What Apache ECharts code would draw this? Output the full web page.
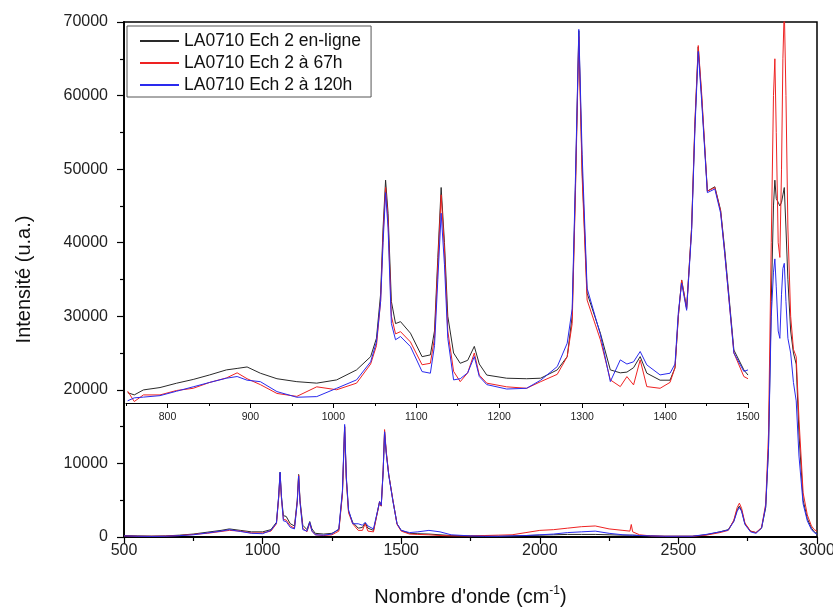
<!DOCTYPE html>
<html>
<head>
<meta charset="utf-8">
<script src="https://cdn.jsdelivr.net/npm/echarts@6/dist/echarts.min.js"></script>
<style>html,body{margin:0;padding:0;background:#fff}#c{width:833px;height:608px}</style>
</head>
<body>
<div id="c"></div>
<script>
// ---- Data ----
var seriesNames = ['LA0710 Ech 2 en-ligne', 'LA0710 Ech 2 à 67h', 'LA0710 Ech 2 à 120h'];

// Main spectrum, 500-3000 cm-1
var mainWavenumber = [
  500,550,600,650,700,750,800,850,880,920,960,1000,
  1030,1050,1058,1063,1068,1075,1085,1100,1115,1125,
  1130,1135,1145,1160,1170,1178,1190,1220,1250,1275,
  1288,1296,1302,1310,1325,1345,1360,1370,1380,1400,
  1415,1422,1428,1435,1440,1446,1455,1462,1470,1485,
  1500,1530,1560,1600,1640,1680,1750,1800,1850,1900,
  1950,2000,2050,2100,2150,2200,2250,2300,2325,2330,
  2335,2360,2400,2450,2500,2550,2600,2650,2680,2700,
  2712,2720,2728,2740,2760,2780,2800,2815,2825,2835,
  2843,2848,2853,2860,2866,2872,2877,2882,2888,2895,
  2905,2915,2925,2935,2950,2965,2980,2990,3000
];
var mainEnLigne = [
  200,150,120,150,250,400,650,900,1100,900,700,700,
  1000,2000,5500,8800,5500,2900,2800,1800,1500,5000,
  8500,5000,1600,1000,2100,1100,500,400,500,1000,
  6000,15000,8000,3500,2000,1200,1300,1900,1200,900,
  3500,4800,4200,9000,14300,11500,8500,8300,5000,1800,
  900,500,450,400,300,200,150,150,100,150,
  200,250,300,350,350,350,300,250,250,250,
  250,200,150,100,100,100,300,700,1000,2200,
  3700,4200,3600,1800,800,600,1200,4000,12000,32000,
  45000,48500,46000,45500,45000,45500,46500,47500,42000,35000,
  28000,25000,23500,14000,5000,2500,1200,700,400
];
var main67h = [
  150,100,100,120,200,350,500,750,900,800,550,550,
  800,1800,5300,8500,5200,2400,2300,1500,1200,4800,
  8400,4800,1200,700,1900,800,300,200,300,800,
  5800,15000,7800,3300,1800,900,900,1800,800,700,
  3500,4800,4200,9200,14600,11700,8500,8300,5000,1700,
  800,400,350,300,200,150,150,200,250,300,
  600,900,1000,1200,1400,1500,1100,900,800,1700,
  700,300,150,100,100,100,250,600,900,2300,
  4000,4600,3900,1900,800,600,1300,4500,14000,40000,
  60000,65000,55000,40000,38000,50000,65000,72000,60000,42000,
  30000,25500,24500,16000,6000,3000,1500,1000,800
];
var main120h = [
  150,100,80,100,180,300,550,800,1000,750,500,450,
  900,1900,5600,8800,5500,2200,2100,1300,1100,4700,
  8300,4700,1000,800,2000,800,300,250,400,1100,
  6300,15300,8200,3700,1800,1800,1600,2000,1500,1100,
  3600,4800,4300,9000,14300,11400,8400,8200,4900,1800,
  900,600,700,900,700,300,150,100,100,150,
  200,300,400,600,700,800,500,300,250,250,
  250,200,150,100,100,100,350,700,950,2100,
  3500,4000,3500,1700,700,500,1200,4200,12000,30000,
  36000,37800,34000,28000,27000,33000,36500,37200,32000,27000,
  25000,21000,18500,11000,4500,2200,1000,600,400
];

// Inset (zoom of 750-1500 cm-1), values expressed on the main intensity scale
var insetWavenumber = [
  752,760,771,791,811,831,851,871,884,896,
  912,932,956,980,1004,1028,1045,1052,1057,1060,
  1063,1066,1070,1075,1081,1093,1107,1117,1122,1126,
  1130,1134,1138,1145,1153,1162,1170,1176,1185,1209,
  1233,1250,1270,1282,1288,1292,1296,1300,1306,1322,
  1334,1346,1354,1362,1370,1378,1394,1406,1412,1416,
  1420,1426,1432,1436,1440,1444,1451,1460,1467,1472,
  1483,1495,1500
];
var insetEnLigne = [
  19600,19300,19980,20300,20890,21400,22020,22700,22900,23100,
  22250,21500,21100,20900,21340,22700,24500,27000,33000,42000,
  48500,44000,32000,29000,29260,27690,24500,24740,28000,38000,
  47500,40000,30000,25000,23600,24000,25900,23500,22000,21570,
  21500,21570,22700,24500,30000,48000,68800,50000,33130,27690,
  22700,22300,22400,23000,24510,22250,21300,21300,23000,30000,
  34930,31080,42000,56000,66600,60000,47000,47600,44400,39000,
  25400,22700,22000
];
var inset67h = [
  19800,18400,19300,19300,19900,20200,21000,21600,22300,21500,
  20700,19500,19100,20400,20000,20900,23500,26000,32000,41000,
  47500,43000,30000,27600,27900,26500,23400,23600,27000,37000,
  46500,39000,28000,22500,21100,22300,25000,22000,20900,20400,
  20200,21100,22100,24500,29000,47000,68000,49000,32200,26800,
  21340,20430,21790,20660,24060,20430,20200,21000,23000,30000,
  34900,31000,42000,56500,66800,60500,47000,47500,44300,38500,
  25000,21800,21500
];
var inset120h = [
  18500,18900,19000,19200,19800,20400,21000,21570,21800,21300,
  21100,19750,18980,19070,20200,21340,23800,26500,32000,40000,
  46800,42000,29000,26800,27240,25870,22470,22250,26000,35000,
  44000,37000,27000,21340,21500,22300,24510,21800,20700,20100,
  20200,21300,23150,26330,31000,49000,69000,52000,33800,27500,
  21110,24060,23500,23800,25200,23380,22020,22250,23500,30500,
  34500,30800,41500,55500,66000,59500,46800,47300,44000,38500,
  25000,22500,22700
];

var insetMajorTicks = [800, 900, 1000, 1100, 1200, 1300, 1400, 1500];

// ---- Chart ----
function zip(xs, ys) { return xs.map(function (x, i) { return [x, ys[i]]; }); }
function plain(v) { return String(v); }
var colors = ['#2a2a2a', '#ee2222', '#2a2aee'];
var font = 'Liberation Sans, Arial, sans-serif';

var chart = echarts.init(document.getElementById('c'), null, { renderer: 'canvas' });

function lineSeries(name, data, color, xi, yi) {
  return {
    name: name, type: 'line', data: data, xAxisIndex: xi, yAxisIndex: yi,
    showSymbol: false, symbol: 'none', smooth: false, clip: true,
    lineStyle: { color: color, width: 1 }, itemStyle: { color: color },
    emphasis: { disabled: true }, animation: false
  };
}

var option = {
  backgroundColor: '#fff',
  animation: false,
  textStyle: { fontFamily: font },
  legend: {
    data: seriesNames,
    orient: 'vertical',
    left: 127, top: 26,
    padding: [6, 10, 3, 13],
    icon: 'rect',
    itemWidth: 39, itemHeight: 2, itemGap: 4,
    itemStyle: { borderWidth: 0 },
    borderColor: '#555', borderWidth: 1,
    textStyle: { fontFamily: font, fontSize: 17.5, color: '#111', lineHeight: 17 },
    selectedMode: false
  },
  grid: [
    { left: 124, right: 16, top: 22, bottom: 71, show: true, borderColor: '#000', borderWidth: 1.5, backgroundColor: 'transparent', outerBoundsMode: 'none', containLabel: false },
    { left: 126, right: 85, top: 22, bottom: 205, show: false, outerBoundsMode: 'none', containLabel: false }
  ],
  xAxis: [
    {
      type: 'value', gridIndex: 0, min: 500, max: 3000, interval: 500,
      name: "Nombre d'onde (cm{sup|-1})",
      nameLocation: 'middle', nameGap: 48,
      nameTextStyle: { fontFamily: font, fontSize: 20, color: '#111', rich: { sup: { fontSize: 12, verticalAlign: 'top', padding: [0, 0, 12, 0], color: '#111' } } },
      axisLine: { show: true, onZero: false, lineStyle: { color: '#000', width: 1.8 } },
      axisTick: { show: true, length: 7, lineStyle: { color: '#000', width: 1.2 } },
      minorTick: { show: true, splitNumber: 2, length: 4, lineStyle: { color: '#000', width: 1.2 } },
      splitLine: { show: false },
      axisLabel: { fontFamily: font, fontSize: 16, color: '#222', margin: 6, formatter: plain }
    },
    {
      type: 'value', gridIndex: 1, min: 750, max: 1500, interval: 50,
      position: 'bottom',
      axisLine: { show: true, onZero: false, lineStyle: { color: '#000', width: 1.2 } },
      axisTick: { show: true, length: 3, lineStyle: { color: '#000', width: 1 } },
      splitLine: { show: false },
      axisLabel: { show: false }
    },
    {
      type: 'value', gridIndex: 1, min: 750, max: 1500,
      position: 'bottom',
      axisLine: { show: false, onZero: false },
      axisTick: { show: true, length: 5, customValues: insetMajorTicks, lineStyle: { color: '#000', width: 1 } },
      splitLine: { show: false },
      axisLabel: { show: true, customValues: insetMajorTicks, fontFamily: font, fontSize: 10.5, color: '#222', margin: 9, formatter: plain }
    }
  ],
  yAxis: [
    {
      type: 'value', gridIndex: 0, min: 0, max: 70000, interval: 10000,
      name: 'Intensité (u.a.)',
      nameLocation: 'middle', nameGap: 90,
      nameTextStyle: { fontFamily: font, fontSize: 20, color: '#111' },
      axisLine: { show: true, lineStyle: { color: '#000', width: 1.8 } },
      axisTick: { show: true, length: 7, lineStyle: { color: '#000', width: 1.2 } },
      minorTick: { show: true, splitNumber: 2, length: 4, lineStyle: { color: '#000', width: 1.2 } },
      splitLine: { show: false },
      axisLabel: { fontFamily: font, fontSize: 16, color: '#222', margin: 16, formatter: plain }
    },
    {
      type: 'value', gridIndex: 1, min: 18200, max: 70000, show: false
    }
  ],
  series: [
    lineSeries(seriesNames[0], zip(mainWavenumber, mainEnLigne), colors[0], 0, 0),
    lineSeries(seriesNames[1], zip(mainWavenumber, main67h), colors[1], 0, 0),
    lineSeries(seriesNames[2], zip(mainWavenumber, main120h), colors[2], 0, 0),
    lineSeries(seriesNames[0], zip(insetWavenumber, insetEnLigne), colors[0], 1, 1),
    lineSeries(seriesNames[1], zip(insetWavenumber, inset67h), colors[1], 1, 1),
    lineSeries(seriesNames[2], zip(insetWavenumber, inset120h), colors[2], 1, 1)
  ]
};
chart.setOption(option);
</script>
</body>
</html>
